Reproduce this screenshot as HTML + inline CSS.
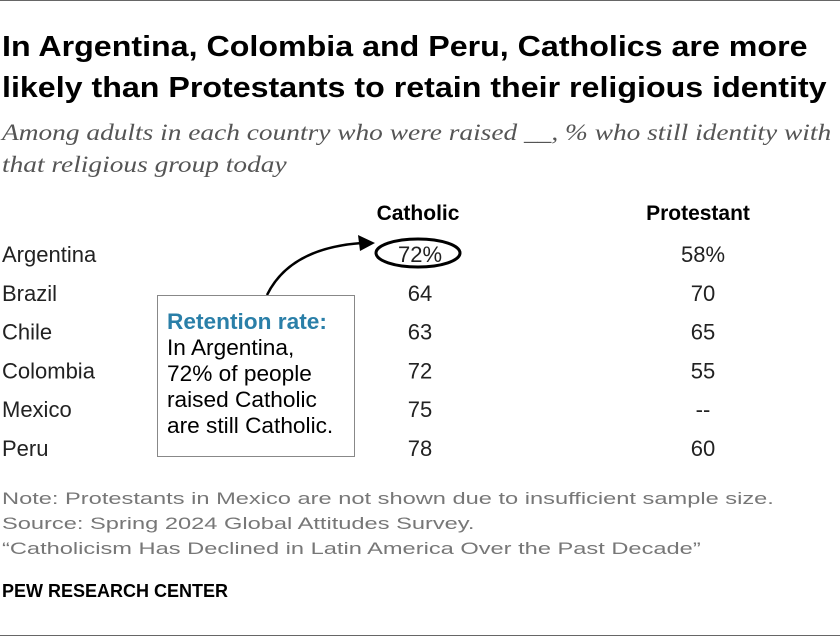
<!DOCTYPE html>
<html><head><meta charset="utf-8"><style>
body{margin:0;background:#fff;}
#c{position:relative;width:840px;height:638px;overflow:hidden;font-family:"Liberation Sans",sans-serif;color:#000;}
.t{position:absolute;white-space:nowrap;transform-origin:0 0;}
</style></head><body>
<div id="c">
<div class="t" style="left:0;top:0;width:840px;height:1px;background:#666"></div>
<div class="t" style="left:2px;top:27px;font-size:29px;font-weight:bold;line-height:41px;transform:scaleX(1.11)">In Argentina, Colombia and Peru, Catholics are more<br>likely than Protestants to retain their religious identity</div>
<div class="t" style="left:2px;top:117px;font-family:'Liberation Serif',serif;font-style:italic;font-size:23px;line-height:32px;color:#555;transform:scaleX(1.19)">Among adults in each country who were raised __, % who still identity with<br>that religious group today</div>
<div class="t" style="left:318px;width:200px;text-align:center;top:202px;font-size:21px;font-weight:bold">Catholic</div>
<div class="t" style="left:598px;width:200px;text-align:center;top:202px;font-size:21px;font-weight:bold">Protestant</div>
<svg id="s" width="840" height="638" style="position:absolute;left:0;top:0"></svg>
<div class="t" style="left:157px;top:295px;width:198px;height:162px;border:1px solid #888;background:#fff;box-sizing:border-box"></div>
<div class="t" style="left:167px;top:309px;font-size:22px;line-height:26px;transform:scaleX(1.03)"><span style="color:#2a7fa8;font-weight:bold">Retention rate:</span><br>In Argentina,<br>72% of people<br>raised Catholic<br>are still Catholic.</div>
<div class="t" style="left:2px;top:486px;font-size:17px;line-height:25px;color:#777;transform:scaleX(1.39)">Note: Protestants in Mexico are not shown due to insufficient sample size.<br>Source: Spring 2024 Global Attitudes Survey.<br>“Catholicism Has Declined in Latin America Over the Past Decade”</div>
<div class="t" style="left:2px;top:581px;font-size:18px;font-weight:bold">PEW RESEARCH CENTER</div>
<div class="t" style="left:0;top:635px;width:840px;height:1px;background:#666"></div>
</div>
<script>
const countries=["Argentina","Brazil","Chile","Colombia","Mexico","Peru"];
const catholic=["72%","64","63","72","75","78"];
const protestant=["58%","70","65","55","--","60"];
const s=document.getElementById('s');
const NS="http://www.w3.org/2000/svg";
const y0=254,dy=38.8;
function rowY(i){return y0+i*dy;}
function txt(x,y,str,anchor,name){
  const t=document.createElementNS(NS,'text');
  t.setAttribute('x',x);t.setAttribute('y',y+8);
  t.setAttribute('text-anchor',anchor);
  t.setAttribute('font-family','Liberation Sans, sans-serif');
  t.setAttribute('font-size','22');t.setAttribute('fill','#222');
  t.textContent=str;
  
  
  s.appendChild(t);
}
countries.forEach((c,i)=>{
  txt(2,rowY(i),c,'start','country-label');
  txt(420,rowY(i),catholic[i],'middle','catholic-value');
  txt(703,rowY(i),protestant[i],'middle','protestant-value');
});
const e=document.createElementNS(NS,'ellipse');
e.setAttribute('cx',418);e.setAttribute('cy',rowY(0)-1);e.setAttribute('rx',42);e.setAttribute('ry',14);
e.setAttribute('fill','none');e.setAttribute('stroke','#000');e.setAttribute('stroke-width','3');


s.appendChild(e);
const p=document.createElementNS(NS,'path');
p.setAttribute('d','M267 295 Q290 248 362 243');
p.setAttribute('fill','none');p.setAttribute('stroke','#000');p.setAttribute('stroke-width','2.5');


s.appendChild(p);
const h=document.createElementNS(NS,'polygon');
h.setAttribute('points','375,243 358,235 360,251');


s.appendChild(h);
</script>
</body></html>
